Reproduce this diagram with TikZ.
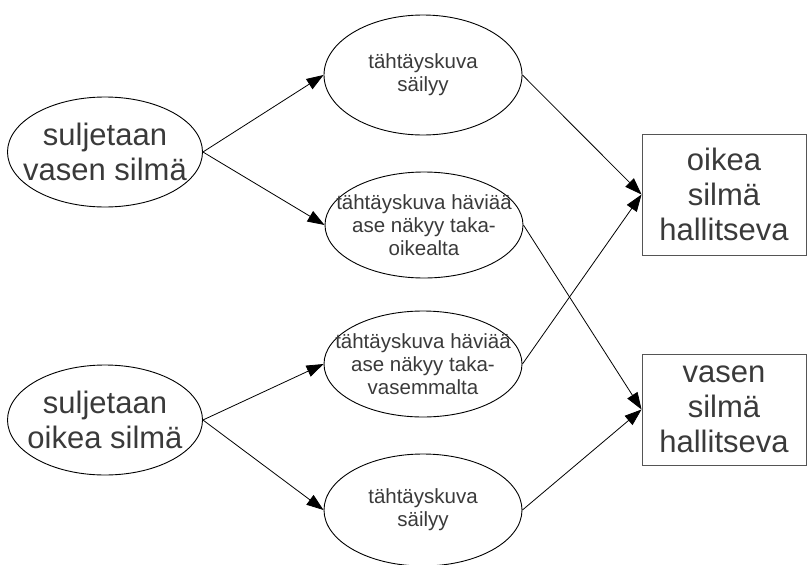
\documentclass[tikz,border=0pt]{standalone}
\usepackage{fontspec}
\setmainfont{Liberation Sans}
\usetikzlibrary{shapes.geometric,arrows.meta}
\definecolor{txt}{HTML}{3A3A3A}
\definecolor{boxline}{HTML}{555555}
\begin{document}
\begin{tikzpicture}[x=1pt,y=-1pt,
  bigtext/.style={font=\fontsize{31}{35}\selectfont},
  smalltext/.style={font=\fontsize{20.5}{23}\selectfont},
  biglab/.style={align=center,text=txt,bigtext,inner sep=0pt},
  smalllab/.style={align=center,text=txt,smalltext,inner sep=0pt},
  leftell/.style={ellipse,draw=black,line width=0.9pt,minimum width=195pt,minimum height=110pt,inner sep=0pt},
  midell/.style={ellipse,draw=black,line width=0.9pt,minimum width=198pt,minimum height=106pt,inner sep=0pt},
  resbox/.style={rectangle,draw=boxline,line width=0.9pt,minimum width=164pt,minimum height=121pt,inner sep=0pt,align=center,text=txt,bigtext},
  conn/.style={draw=black,line width=0.8pt,-{Triangle[length=17pt,width=12pt]}}]
\useasboundingbox (0,0) rectangle (809,565);
\node[leftell,label={[biglab]center:{suljetaan\\vasen silmä}}] (e1) at (105,152) {};
\node[leftell,label={[biglab]center:{suljetaan\\oikea silmä}}] (e2) at (105,420) {};
\node[midell,minimum height=120pt,label={[smalllab]center:{tähtäyskuva\\säilyy}}] (m1) at (423,75) {};
\node[midell,label={[smalllab]center:{tähtäyskuva häviää\\ase näkyy taka-\\oikealta}}] (m2) at (424,225) {};
\node[midell,label={[smalllab]center:{tähtäyskuva häviää\\ase näkyy taka-\\vasemmalta}}] (m3) at (423,364) {};
\node[midell,minimum height=112pt,label={[smalllab]center:{tähtäyskuva\\säilyy}}] (m4) at (423,510) {};
\node[resbox] (b1) at (724,194.5) {oikea\\silmä\\hallitseva};
\node[resbox,minimum height=111pt] (b2) at (724,409.5) {vasen\\silmä\\hallitseva};
\draw[conn] (e1.east) -- (m1.west);
\draw[conn] (e1.east) -- (m2.west);
\draw[conn] (e2.east) -- (m3.west);
\draw[conn] (e2.east) -- (m4.west);
\draw[conn] (m1.east) -- (b1.west);
\draw[conn] (m3.east) -- (b1.west);
\draw[conn] (m2.east) -- (b2.west);
\draw[conn] (m4.east) -- (b2.west);
\end{tikzpicture}
\end{document}
